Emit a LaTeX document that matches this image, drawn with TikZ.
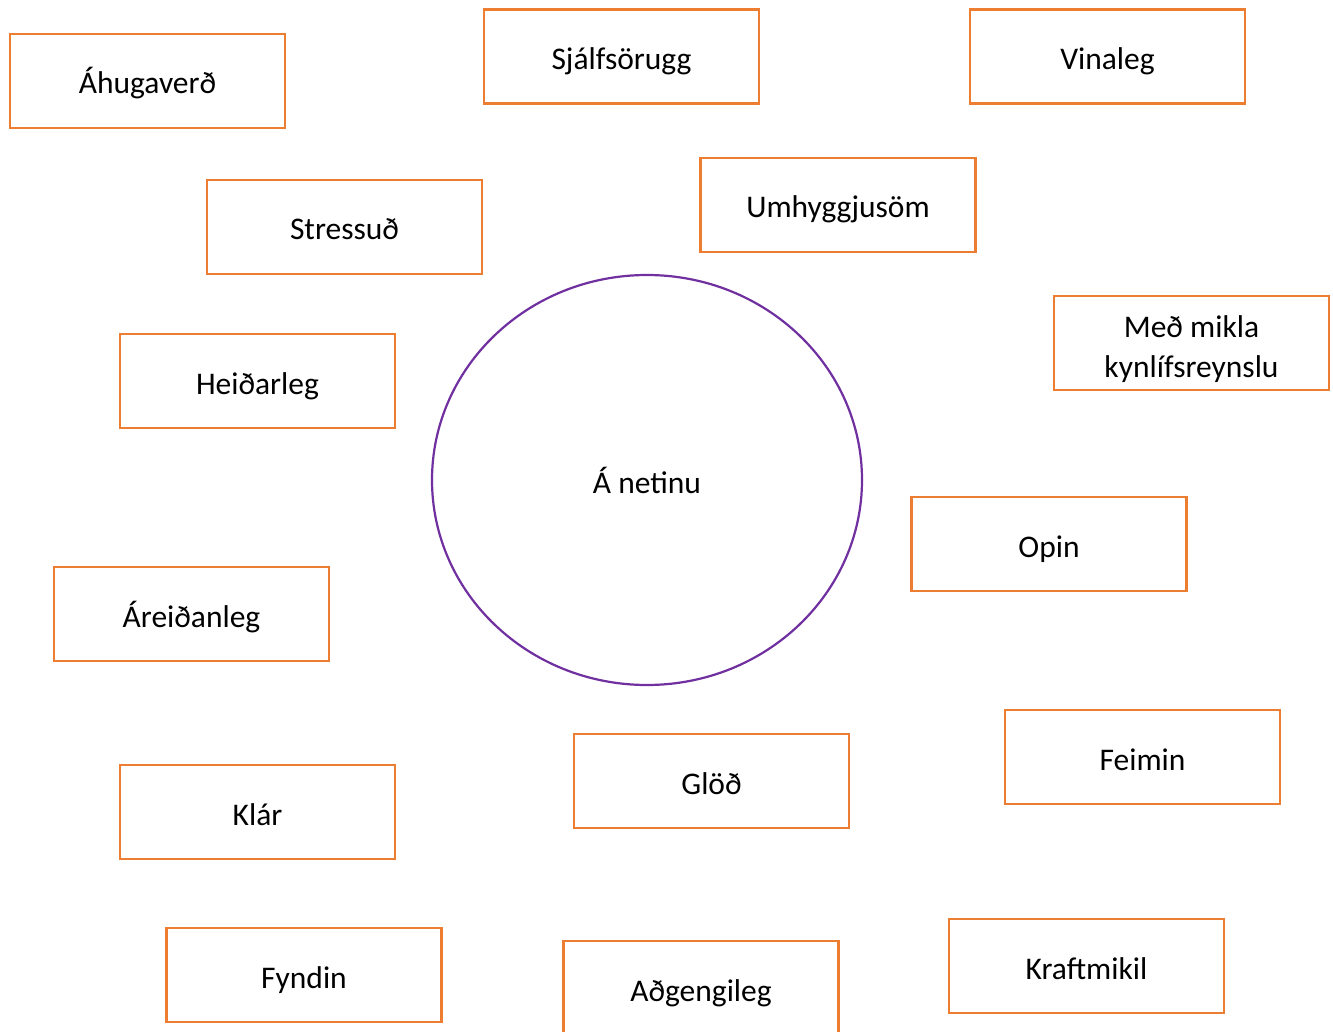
\documentclass[tikz,border=0pt]{standalone}
\usepackage{fontspec}
\setmainfont{Carlito}
\usetikzlibrary{shapes.geometric}
\definecolor{boxorange}{HTML}{ED7D31}
\definecolor{circpurple}{HTML}{7030A0}
\tikzset{
  wordbox/.style={draw=boxorange, line width=2.5pt, rectangle, minimum width=275pt, minimum height=94pt, inner sep=0pt, align=center, text=black, font=\fontsize{31.5}{40}\selectfont, execute at begin node={\rule[-8pt]{0pt}{42pt}}},
  hub/.style={draw=circpurple, line width=2.2pt, ellipse, minimum width=430pt, minimum height=410pt, inner sep=0pt, font=\fontsize{31.5}{40}\selectfont}
}
\begin{document}
\begin{tikzpicture}[x=1pt,y=-1pt]
\clip (0,0) rectangle (1333,1032);
\fill[white] (0,0) rectangle (1333,1032);
\node[wordbox] (ahug) at (147.5,81) {Áhugaverð};
\node[wordbox] (sjalf) at (621.5,56.5) {Sjálfsörugg};
\node[wordbox] (vina) at (1107.5,56.5) {Vinaleg};
\node[wordbox] (stress) at (344.5,227) {Stressuð};
\node[wordbox] (umh) at (838,205) {Umhyggjusöm};
\node[wordbox, execute at begin node={}] (med) at (1191.5,343) {\raisebox{0pt}[0pt][0pt]{\begin{tabular}{@{}c@{}}Með mikla\\kynlífsreynslu\end{tabular}}};
\node[wordbox] (heid) at (257.5,381) {Heiðarleg};
\node[hub] (net) at (647,480) {Á netinu};
\node[wordbox] (opin) at (1049,544) {Opin};
\node[wordbox] (arei) at (191.5,614) {Áreiðanleg};
\node[wordbox] (glod) at (711.5,781) {Glöð};
\node[wordbox] (feim) at (1142.5,757) {Feimin};
\node[wordbox] (klar) at (257.5,812) {Klár};
\node[wordbox] (fynd) at (304,975) {Fyndin};
\node[wordbox] (adg) at (701,988) {Aðgengileg};
\node[wordbox] (kraft) at (1086.5,966) {Kraftmikil};
\end{tikzpicture}
\end{document}
